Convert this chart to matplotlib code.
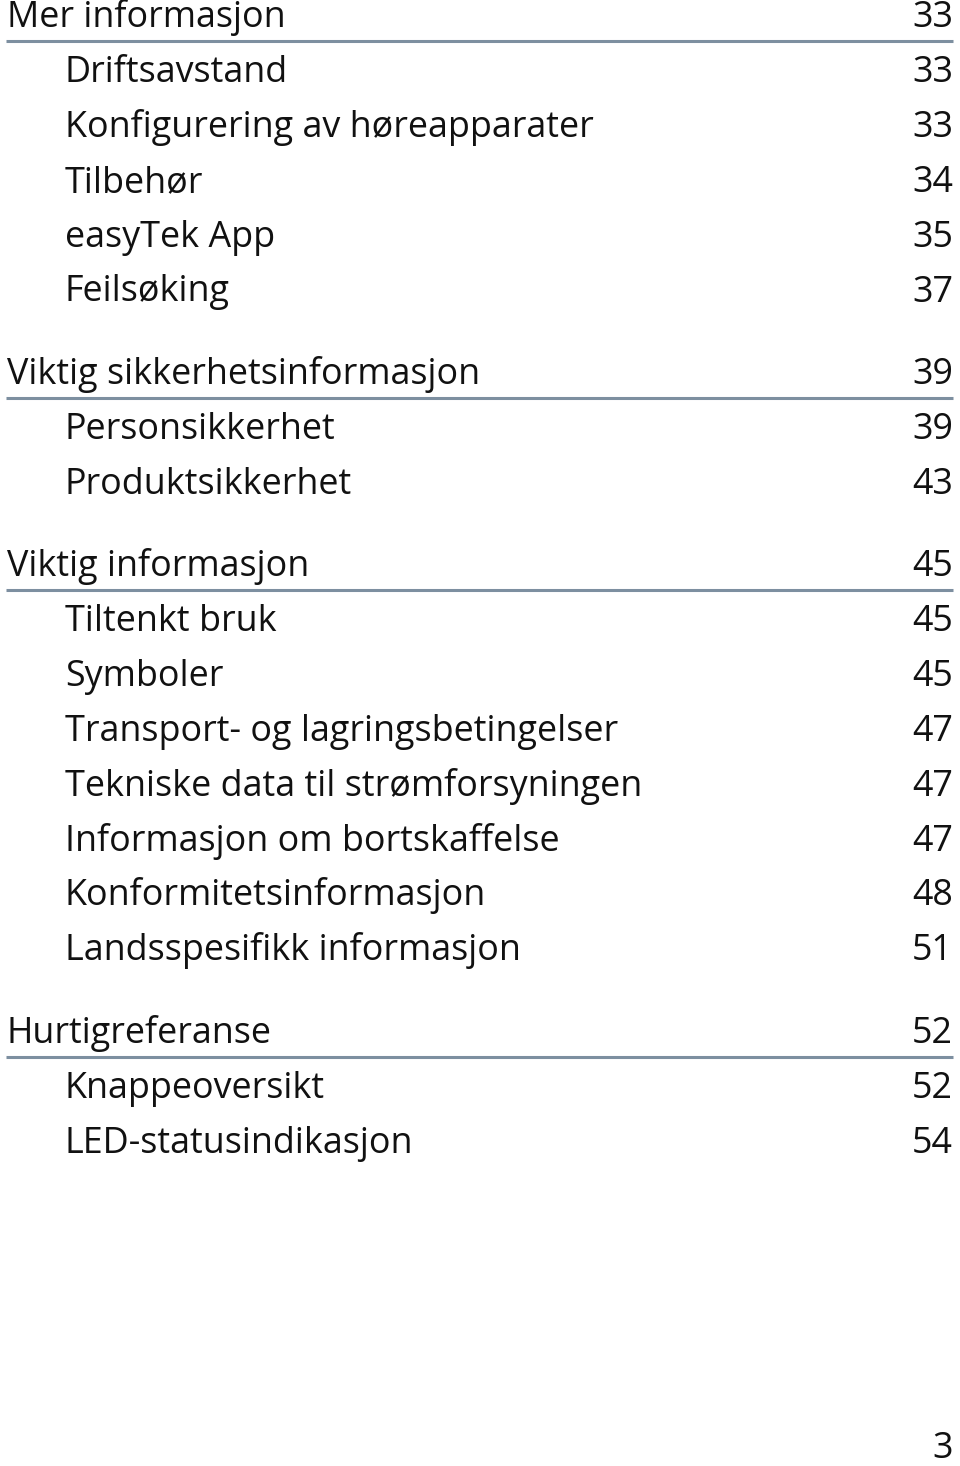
import matplotlib
matplotlib.use("Agg")
import matplotlib.pyplot as plt

titles = ["Mer informasjon", "Driftsavstand", "Konfigurering av høreapparater", "Tilbehør",
          "easyTek App", "Feilsøking",
          "Viktig sikkerhetsinformasjon", "Personsikkerhet", "Produktsikkerhet",
          "Viktig informasjon", "Tiltenkt bruk", "Symboler", "Transport- og lagringsbetingelser",
          "Tekniske data til strømforsyningen", "Informasjon om bortskaffelse",
          "Konformitetsinformasjon", "Landsspesifikk informasjon",
          "Hurtigreferanse", "Knappeoversikt", "LED-statusindikasjon"]
pages = ["33", "33", "33", "34", "35", "37",
         "39", "39", "43",
         "45", "45", "45", "47", "47", "47", "48", "51",
         "52", "52", "54"]
levels = [0, 1, 1, 1, 1, 1,
          0, 1, 1,
          0, 1, 1, 1, 1, 1, 1, 1,
          0, 1, 1]
page_number = "3"

W, H = 960, 1466
fig = plt.figure(figsize=(W / 100, H / 100), dpi=100)
ax = fig.add_axes([0, 0, 1, 1])
ax.set_xlim(0, W)
ax.set_ylim(H, 0)
ax.axis("off")

font = "Open Sans"
fs = 25.8
line_color = "#7d8fa0"
row = 54.9
gap = 27.5

y = 27
for i, (t, p, lv) in enumerate(zip(titles, pages, levels)):
    if i > 0:
        y += row
        if lv == 0:
            y += gap
    x = 7 if lv == 0 else 65
    ax.text(x, y, t, fontsize=fs, family=font, va="baseline", ha="left", color="#111111")
    ax.text(953, y, p, fontsize=fs, family=font, va="baseline", ha="right", color="#111111")
    if lv == 0:
        ax.plot([6, 953], [y + 14, y + 14], color=line_color, lw=2.2, solid_capstyle="butt")

ax.text(953, 1458, page_number, fontsize=fs, family=font, va="baseline", ha="right", color="#111111")

fig.savefig("out.png", dpi=100)
